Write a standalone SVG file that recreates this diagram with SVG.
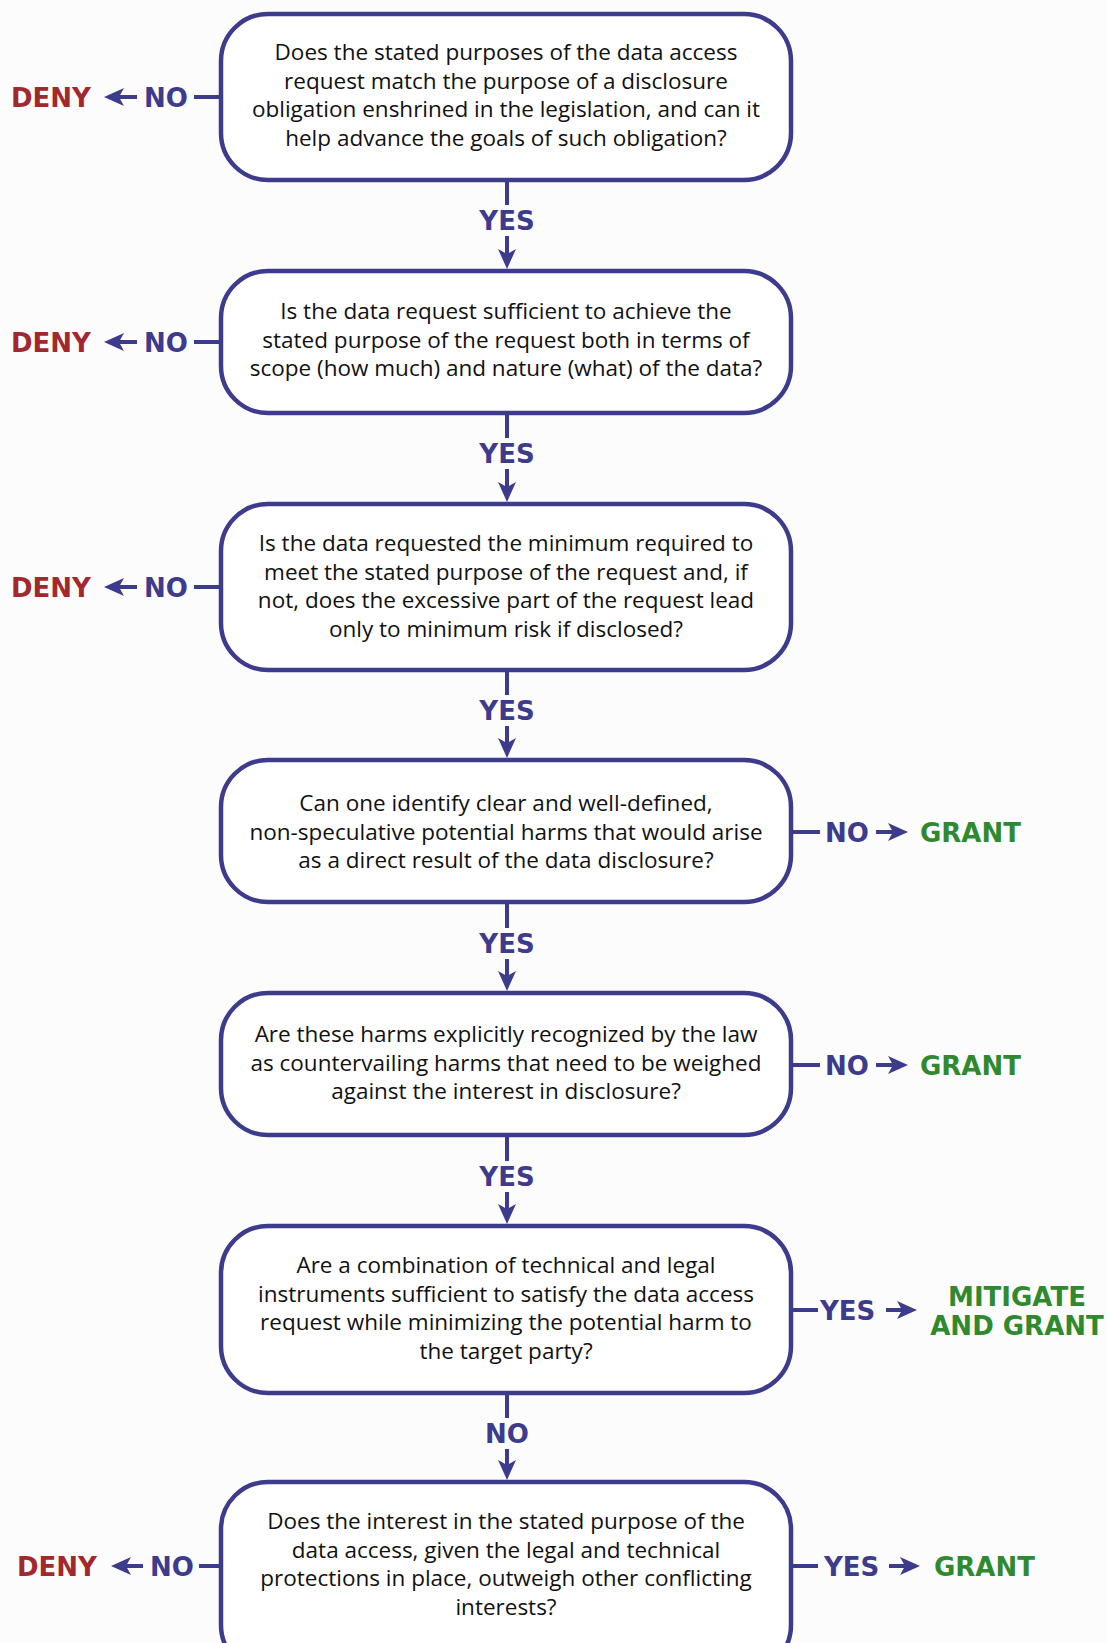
<svg xmlns="http://www.w3.org/2000/svg" width="1107" height="1643" viewBox="0 0 1107 1643">
<style>
.box{fill:#ffffff;stroke:#3d3b8c;stroke-width:4.5}
.q{font-family:"Open Sans","Liberation Sans",sans-serif;font-size:22.5px;fill:#111111;text-anchor:middle}
.lab{font-family:"DejaVu Sans","Liberation Sans",sans-serif;font-weight:bold;font-size:26px;fill:#3d3b8c}
.c{text-anchor:middle}
.deny{font-family:"DejaVu Sans","Liberation Sans",sans-serif;font-weight:bold;font-size:26px;fill:#a3282e}
.grant{font-family:"DejaVu Sans","Liberation Sans",sans-serif;font-weight:bold;font-size:26px;fill:#2f8a2f}
.ln{stroke:#3d3b8c;stroke-width:4;fill:none}
</style>
<defs>
<marker id="ah" viewBox="0 0 20 18" refX="14" refY="9" markerWidth="20" markerHeight="18" markerUnits="userSpaceOnUse" orient="auto">
<path d="M0,0 L20,9 L0,18 L5,9 z" fill="#3d3b8c"/>
</marker>
</defs>
<rect width="1107" height="1643" fill="#fcfcfc"/>

<g id="connectors">
<!-- vertical -->
<line class="ln" x1="507" y1="180" x2="507" y2="205"/>
<line class="ln" x1="507" y1="236" x2="507" y2="263" marker-end="url(#ah)"/>
<line class="ln" x1="507" y1="413" x2="507" y2="438"/>
<line class="ln" x1="507" y1="469" x2="507" y2="496" marker-end="url(#ah)"/>
<line class="ln" x1="507" y1="670" x2="507" y2="695"/>
<line class="ln" x1="507" y1="726" x2="507" y2="752" marker-end="url(#ah)"/>
<line class="ln" x1="507" y1="902" x2="507" y2="928"/>
<line class="ln" x1="507" y1="959" x2="507" y2="985" marker-end="url(#ah)"/>
<line class="ln" x1="507" y1="1135" x2="507" y2="1161"/>
<line class="ln" x1="507" y1="1192" x2="507" y2="1218" marker-end="url(#ah)"/>
<line class="ln" x1="507" y1="1393" x2="507" y2="1418"/>
<line class="ln" x1="507" y1="1449" x2="507" y2="1474" marker-end="url(#ah)"/>
<!-- left NO branches -->
<line class="ln" x1="194" y1="97" x2="220" y2="97"/>
<line class="ln" x1="137" y1="97" x2="110" y2="97" marker-end="url(#ah)"/>
<line class="ln" x1="194" y1="342" x2="220" y2="342"/>
<line class="ln" x1="137" y1="342" x2="110" y2="342" marker-end="url(#ah)"/>
<line class="ln" x1="194" y1="587" x2="220" y2="587"/>
<line class="ln" x1="137" y1="587" x2="110" y2="587" marker-end="url(#ah)"/>
<line class="ln" x1="199" y1="1566" x2="220" y2="1566"/>
<line class="ln" x1="143" y1="1566" x2="117" y2="1566" marker-end="url(#ah)"/>
<!-- right branches -->
<line class="ln" x1="793" y1="832" x2="820" y2="832"/>
<line class="ln" x1="876" y1="832" x2="902" y2="832" marker-end="url(#ah)"/>
<line class="ln" x1="793" y1="1065" x2="820" y2="1065"/>
<line class="ln" x1="876" y1="1065" x2="902" y2="1065" marker-end="url(#ah)"/>
<line class="ln" x1="793" y1="1310" x2="818" y2="1310"/>
<line class="ln" x1="886" y1="1310" x2="911" y2="1310" marker-end="url(#ah)"/>
<line class="ln" x1="793" y1="1566" x2="818" y2="1566"/>
<line class="ln" x1="889" y1="1566" x2="914" y2="1566" marker-end="url(#ah)"/>
<!-- labels -->
<text class="lab c" x="507" y="229.5">YES</text>
<text class="lab c" x="507" y="462.5">YES</text>
<text class="lab c" x="507" y="719.5">YES</text>
<text class="lab c" x="507" y="952.5">YES</text>
<text class="lab c" x="507" y="1185.5">YES</text>
<text class="lab c" x="507" y="1442.5">NO</text>
<text class="lab" x="144" y="106.5">NO</text>
<text class="lab" x="144" y="351.5">NO</text>
<text class="lab" x="144" y="596.5">NO</text>
<text class="lab" x="150" y="1575.5">NO</text>
<text class="lab" x="825" y="841.5">NO</text>
<text class="lab" x="825" y="1074.5">NO</text>
<text class="lab" x="820" y="1319.5">YES</text>
<text class="lab" x="824" y="1575.5">YES</text>
</g>

<g id="deny1"><text class="deny" x="11" y="106.5">DENY</text></g>
<g id="deny2"><text class="deny" x="11" y="351.5">DENY</text></g>
<g id="deny3"><text class="deny" x="11" y="596.5">DENY</text></g>
<g id="deny4"><text class="deny" x="17" y="1575.5">DENY</text></g>
<g id="grant1"><text class="grant" x="920" y="841.5">GRANT</text></g>
<g id="grant2"><text class="grant" x="920" y="1074.5">GRANT</text></g>
<g id="mitigate"><text class="grant c" x="1017" y="1306">MITIGATE</text><text class="grant c" x="1017" y="1334.5">AND GRANT</text></g>
<g id="grant3"><text class="grant" x="934" y="1575.5">GRANT</text></g>

<g id="q1">
<rect class="box" x="221" y="14" width="570" height="166" rx="47"/>
<text class="q" x="506"><tspan x="506" y="60">Does the stated purposes of the data access</tspan><tspan x="506" y="88.5">request match the purpose of a disclosure</tspan><tspan x="506" y="117">obligation enshrined in the legislation, and can it</tspan><tspan x="506" y="145.5">help advance the goals of such obligation?</tspan></text>
</g>
<g id="q2">
<rect class="box" x="221" y="271" width="570" height="142" rx="47"/>
<text class="q" x="506"><tspan x="506" y="319">Is the data request sufficient  to achieve the</tspan><tspan x="506" y="347.5">stated purpose of the request both in terms of</tspan><tspan x="506" y="376">scope (how much) and nature (what) of the data?</tspan></text>
</g>
<g id="q3">
<rect class="box" x="221" y="504" width="570" height="166" rx="47"/>
<text class="q" x="506"><tspan x="506" y="551">Is the data requested the minimum required to</tspan><tspan x="506" y="579.5">meet the stated purpose of the request and, if</tspan><tspan x="506" y="608">not, does the excessive part of the request lead</tspan><tspan x="506" y="636.5">only to minimum risk if disclosed?</tspan></text>
</g>
<g id="q4">
<rect class="box" x="221" y="760" width="570" height="142" rx="47"/>
<text class="q" x="506"><tspan x="506" y="811">Can one identify clear and well-defined,</tspan><tspan x="506" y="839.5">non-speculative potential harms that would arise</tspan><tspan x="506" y="868">as a direct result of the data disclosure?</tspan></text>
</g>
<g id="q5">
<rect class="box" x="221" y="993" width="570" height="142" rx="47"/>
<text class="q" x="506"><tspan x="506" y="1042">Are these harms explicitly recognized by the law</tspan><tspan x="506" y="1070.5">as countervailing harms that need to be weighed</tspan><tspan x="506" y="1099">against the interest in disclosure?</tspan></text>
</g>
<g id="q6">
<rect class="box" x="221" y="1226" width="570" height="167" rx="47"/>
<text class="q" x="506"><tspan x="506" y="1273">Are a combination of technical and legal</tspan><tspan x="506" y="1301.5">instruments sufficient to satisfy the data access</tspan><tspan x="506" y="1330">request while minimizing the potential harm to</tspan><tspan x="506" y="1358.5">the target party?</tspan></text>
</g>
<g id="q7">
<rect class="box" x="221" y="1482" width="570" height="190" rx="47"/>
<text class="q" x="506"><tspan x="506" y="1529">Does the interest in the stated purpose of the</tspan><tspan x="506" y="1557.5">data access, given the legal and technical</tspan><tspan x="506" y="1586">protections in place, outweigh other conflicting</tspan><tspan x="506" y="1614.5">interests?</tspan></text>
</g>
</svg>
